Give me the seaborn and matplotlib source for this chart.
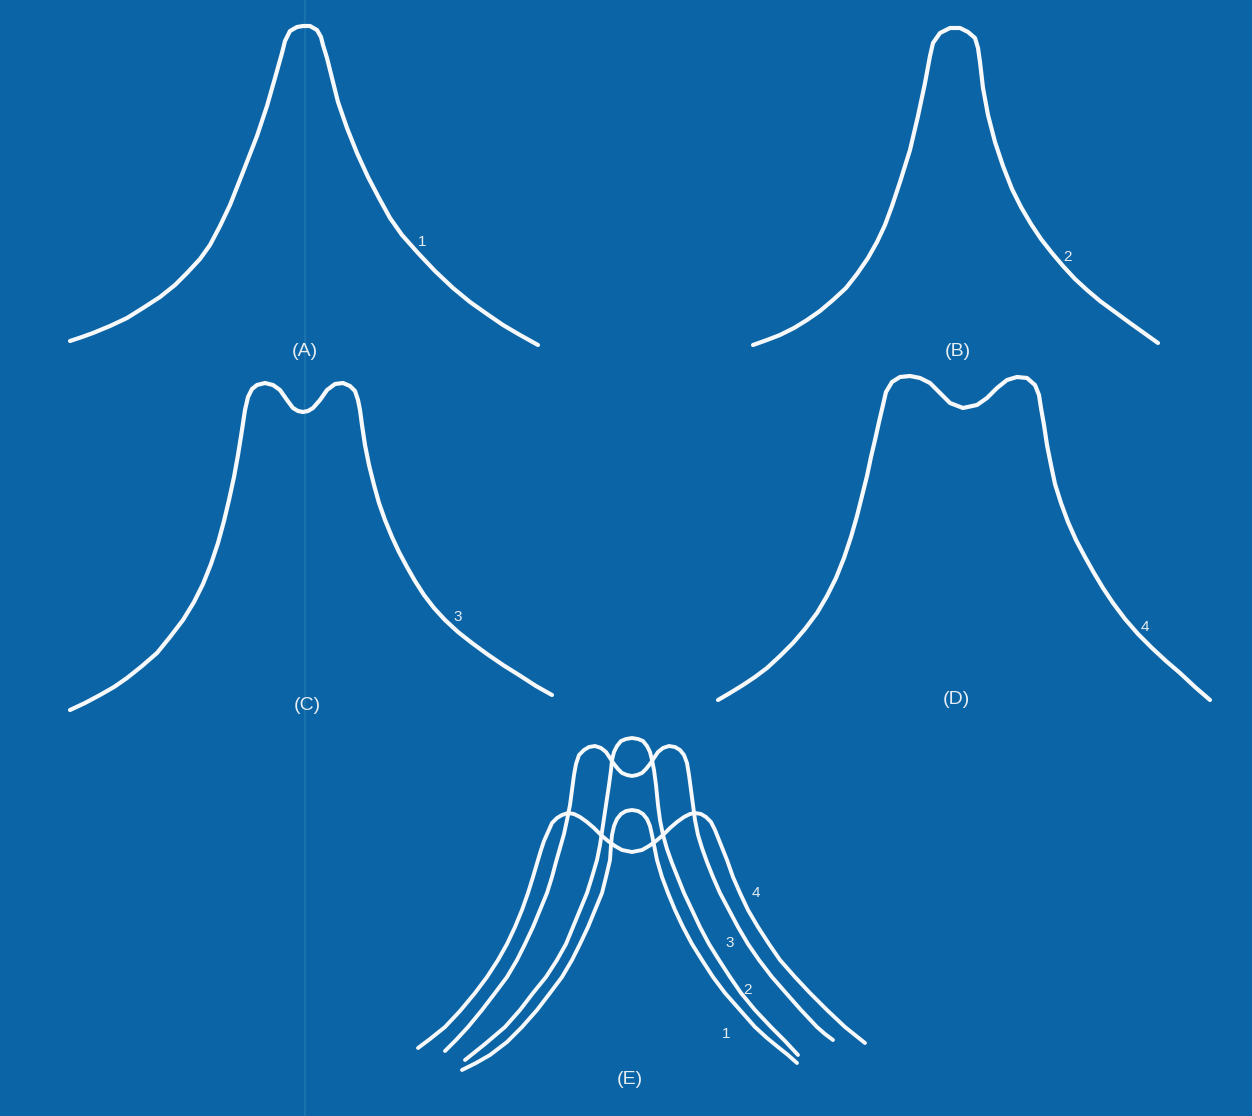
import numpy as np
import pandas as pd
import seaborn as sns
import matplotlib
matplotlib.use("Agg")
import matplotlib.pyplot as plt

# ---- curves (pixel coords, y down) ----
### (A) single peak, curve 1
a_x = [70, 82, 93, 110, 127, 143, 160, 175, 187, 200, 210, 220, 230, 243, 257, 267, 275, 282, 285, 290, 297, 303,
       310, 317, 321, 323, 327, 332, 338, 347, 357, 368, 379, 390, 402, 418, 435, 453, 470, 487, 503, 520, 538]
a_y = [341, 337, 333, 326, 318, 308, 297, 285, 273, 259, 245, 226, 205, 172, 136, 106, 78, 53, 41, 31, 27, 26,
       26, 30, 37, 45, 58, 78, 102, 128, 153, 177, 198, 218, 235, 253, 271, 288, 302, 314, 325, 335, 345]

### (B) single peak, curve 2
b_x = [753, 767, 780, 794, 807, 820, 833, 846, 857, 868, 877, 885, 892, 900, 910, 918, 925, 930, 933, 940, 950,
       960, 968, 975, 978, 980, 983, 988, 995, 1003, 1012, 1021, 1031, 1041, 1052, 1063, 1075, 1087, 1100, 1115,
       1130, 1144, 1158]
b_y = [345, 340, 335, 328, 320, 311, 300, 288, 274, 258, 242, 225, 206, 182, 150, 116, 83, 56, 43, 33, 28,
       28, 32, 38, 48, 62, 88, 115, 142, 166, 189, 207, 224, 239, 253, 266, 279, 290, 301, 312,
       323, 333, 343]

### (C) double peak, curve 3
c_x = [70, 85, 100, 114, 127, 142, 157, 170, 183, 194, 203, 211, 218, 224, 229, 234, 238, 242, 245, 248, 252,
       257, 265, 273, 280, 287, 293, 298, 303, 308, 313, 320, 327, 335, 343, 350, 355, 358, 360, 362, 365, 369,
       374, 379, 385, 392, 399, 407, 415, 424, 434, 445, 458, 472, 487, 503, 519, 536, 552]
c_y = [710, 703, 695, 687, 678, 666, 653, 637, 620, 602, 584, 564, 543, 521, 500, 477, 455, 430, 410, 397, 389,
       385, 383, 385, 390, 400, 408, 411, 412, 411, 408, 400, 390, 384, 383, 386, 391, 400, 410, 425, 445, 465,
       485, 503, 520, 537, 552, 567, 581, 595, 608, 620, 632, 643, 654, 665, 675, 686, 695]

### (D) wide double peak, curve 4
d_x = [718, 730, 743, 755, 767, 780, 793, 805, 817, 827, 836, 844, 851, 857, 862, 867, 871, 875, 879, 883, 886,
       892, 900, 910, 920, 930, 940, 950, 963, 977, 987, 997, 1007, 1017, 1027, 1035, 1039, 1041, 1044, 1047,
       1051, 1055, 1061, 1068, 1076, 1085, 1094, 1103, 1113, 1125, 1138, 1152, 1166, 1180, 1195, 1210]
d_y = [700, 693, 685, 677, 668, 656, 643, 629, 613, 596, 578, 558, 537, 516, 496, 476, 457, 440, 422, 405, 392,
       382, 377, 376, 378, 383, 393, 403, 408, 405, 398, 388, 380, 377, 378, 385, 395, 408, 425, 445,
       465, 484, 503, 522, 540, 557, 573, 588, 603, 619, 634, 648, 661, 673, 687, 700]

### (E) the four curves overlaid
e1_x = [462, 476, 490, 507, 522, 537, 550, 562, 572, 580, 588, 595, 602, 606, 610, 611, 612, 614, 617, 621, 626,
        632, 638, 643, 647, 650, 652, 654, 657, 662, 668, 675, 683, 692, 702, 713, 725, 740, 755, 767, 778, 788, 797]
e1_y = [1070, 1063, 1055, 1042, 1027, 1010, 993, 977, 960, 944, 927, 910, 893, 877, 860, 845, 835, 826, 819, 814, 811,
        810, 811, 814, 819, 826, 835, 845, 860, 877, 893, 910, 927, 944, 960, 977, 993, 1010, 1027, 1038, 1047, 1055, 1063]

e2_x = [465, 485, 505, 520, 533, 546, 557, 566, 573, 580, 587, 592, 597, 600, 603, 606, 609, 611, 612, 614, 617,
        621, 626, 632, 638, 643, 647, 650, 652, 654, 656, 658, 660, 663, 667, 672, 678, 684, 692, 700, 709, 719,
        730, 741, 755, 771, 785, 798]
e2_y = [1060, 1044, 1027, 1010, 993, 977, 960, 944, 927, 910, 893, 877, 860, 845, 825, 805, 785, 770, 760, 752, 746,
        741, 739, 738, 739, 741, 746, 752, 760, 770, 785, 805, 820, 835, 849, 863, 878, 893, 910, 927, 944, 960,
        977, 993, 1010, 1027, 1041, 1055]

e3_x = [445, 456, 468, 482, 495, 507, 517, 525, 533, 540, 547, 552, 556, 560, 564, 567, 570, 572, 574, 576, 579,
        584, 589, 595, 601, 606, 610, 614, 618, 622, 627, 632, 637, 642, 646, 650, 654, 658, 663, 669, 675, 680,
        684, 687, 689, 691, 693, 695, 698, 702, 707, 713, 720, 729, 738, 748, 759, 772, 786, 801, 817, 825, 833]
e3_y = [1051, 1040, 1027, 1010, 993, 977, 960, 944, 927, 910, 893, 877, 862, 848, 834, 820, 805, 790, 775, 764, 755,
        750, 747, 746, 748, 752, 758, 764, 769, 773, 775, 776, 775, 773, 769, 764, 758, 752, 748, 746, 747, 750,
        755, 763, 775, 790, 805, 820, 835, 848, 862, 877, 893, 910, 927, 944, 960, 977, 993, 1010, 1027, 1034, 1040]

e4_x = [418, 430, 445, 460, 475, 487, 498, 507, 515, 522, 528, 533, 538, 541, 544, 548, 552, 557, 562, 568, 574,
        580, 587, 594, 601, 608, 615, 622, 627, 632, 637, 642, 649, 656, 663, 670, 677, 684, 690, 695, 701, 706,
        711, 715, 719, 723, 727, 733, 740, 748, 758, 769, 780, 795, 810, 827, 845, 855, 865]
e4_y = [1048, 1039, 1027, 1011, 993, 977, 960, 944, 927, 910, 893, 877, 860, 850, 841, 832, 823, 818, 815, 813, 814,
        817, 822, 828, 835, 841, 846, 850, 851, 852, 851, 850, 846, 841, 835, 828, 822, 817, 814, 813, 814, 817,
        822, 830, 840, 850, 860, 877, 893, 910, 927, 944, 960, 977, 993, 1010, 1027, 1035, 1043]

# labels
panel_labels = ["(A)", "(B)", "(C)", "(D)", "(E)"]
panel_lx = [305, 958, 307, 956, 630]
panel_ly = [352, 352, 706, 700, 1080]
num_labels = ["1", "2", "3", "4", "4", "3", "2", "1"]
num_lx = [422, 1068, 458, 1145, 756, 730, 748, 726]
num_ly = [242, 257, 617, 627, 893, 943, 990, 1034]

bg = "#0a64a5"
line_col = "#f6f8fa"
text_col = "#e6edf3"

sns.set_theme(style="white")
plt.rcParams["font.family"] = ["Liberation Sans", "DejaVu Sans"]

fig = plt.figure(figsize=(12.52, 11.16), dpi=100, facecolor=bg)
ax = fig.add_axes([0, 0, 1, 1])
ax.set_facecolor(bg)

# faint fold line in the scan
ax.axvline(305, color="#2a80b4", lw=1.2, alpha=0.6, zorder=0)

curves = [(a_x, a_y, 3.0), (b_x, b_y, 3.0), (c_x, c_y, 3.0), (d_x, d_y, 3.0),
          (e1_x, e1_y, 2.8), (e2_x, e2_y, 2.8), (e3_x, e3_y, 2.8), (e4_x, e4_y, 2.8)]
for cx, cy, lw in curves:
    df = pd.DataFrame({"x": cx, "y": cy})
    sns.lineplot(data=df, x="x", y="y", sort=False, estimator=None, ax=ax,
                 color=line_col, lw=lw, solid_capstyle="round", solid_joinstyle="round")

for t, x, y in zip(panel_labels, panel_lx, panel_ly):
    ax.text(x, y, t, color=text_col, fontsize=14, ha="center", va="center")
for t, x, y in zip(num_labels, num_lx, num_ly):
    ax.text(x, y, t, color=text_col, fontsize=11, ha="center", va="center")

ax.set_xlim(0, 1252)
ax.set_ylim(1116, 0)
ax.axis("off")
fig.savefig("out.png", dpi=100, facecolor=bg)
